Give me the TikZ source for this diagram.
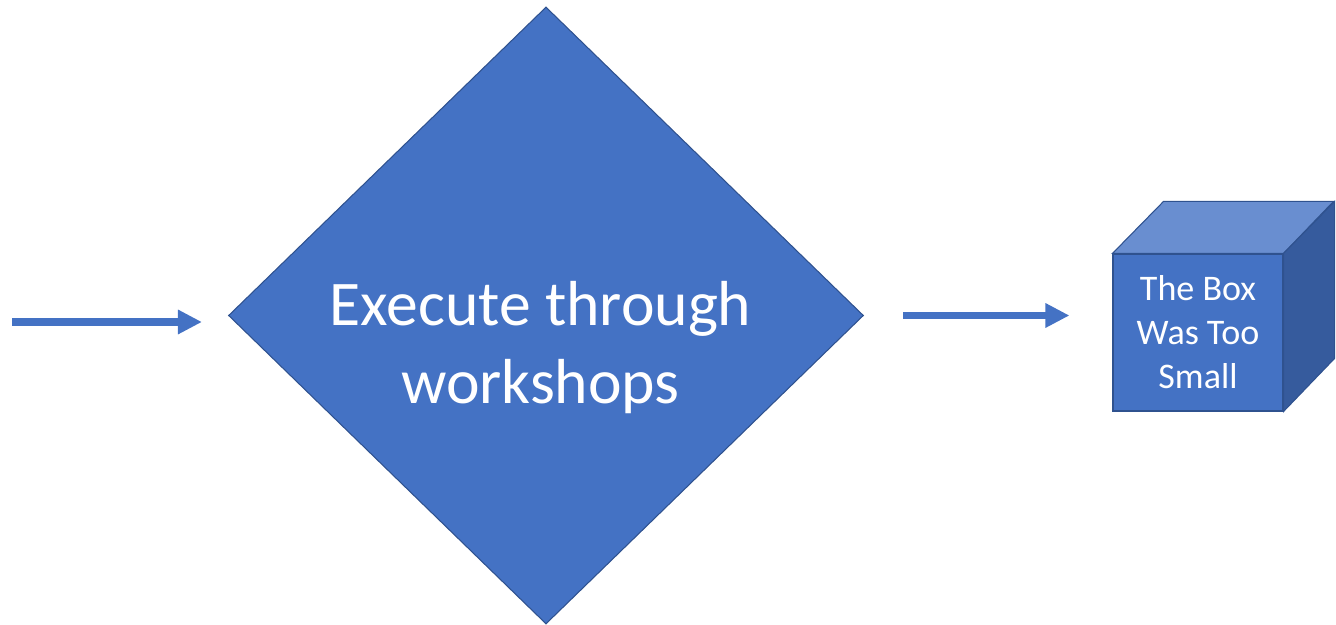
\documentclass[tikz,border=0pt]{standalone}
\usepackage{fontspec}
\setmainfont{Carlito}
\usetikzlibrary{shapes.geometric,arrows.meta}
\definecolor{offblue}{HTML}{4472C4}
\definecolor{offedge}{HTML}{2F528F}
\definecolor{offtop}{HTML}{698ED0}
\definecolor{offside}{HTML}{365B9D}

\begin{document}
\begin{tikzpicture}[
  flow/.style={line width=0.15cm, offblue, -{Triangle[length=0.48cm,width=0.46cm]}},
  face/.style={draw=offedge, line width=0.6pt}
]
\useasboundingbox (0,0) rectangle (26.72,12.5);
\node[diamond, face, fill=offblue, minimum width=12.7cm, minimum height=12.34cm, inner sep=0] (exec) at (10.92,6.19) {};
\node[text=white, align=center, font=\fontsize{36.2}{44.4}\selectfont, anchor=base] (exectext) at (10.81,4.42) {Execute through\\workshops};
% the box
\node[face, fill=offblue, minimum width=3.4cm, minimum height=3.14cm, inner sep=0, text=white, align=center, font=\fontsize{20.5}{25}\selectfont] (box) at (23.96,5.85) {The Box\\Was Too\\Small};
\filldraw[face, fill=offtop] (box.north west) -- ++(1.02,1.04) -- ++(3.4,0) -- (box.north east) -- cycle;
\filldraw[face, fill=offside] (box.north east) -- ++(1.02,1.04) -- ++(0,-3.14) -- (box.south east) -- cycle;
% arrows
\coordinate (in) at (0.24,6.06);
\draw[flow, shorten >=0.52cm] (in) -- (in -| exec.west);
\draw[flow, shorten <=0.78cm, shorten >=0.86cm] (exec.east) -- (exec.east -| box.west);
\end{tikzpicture}
\end{document}
